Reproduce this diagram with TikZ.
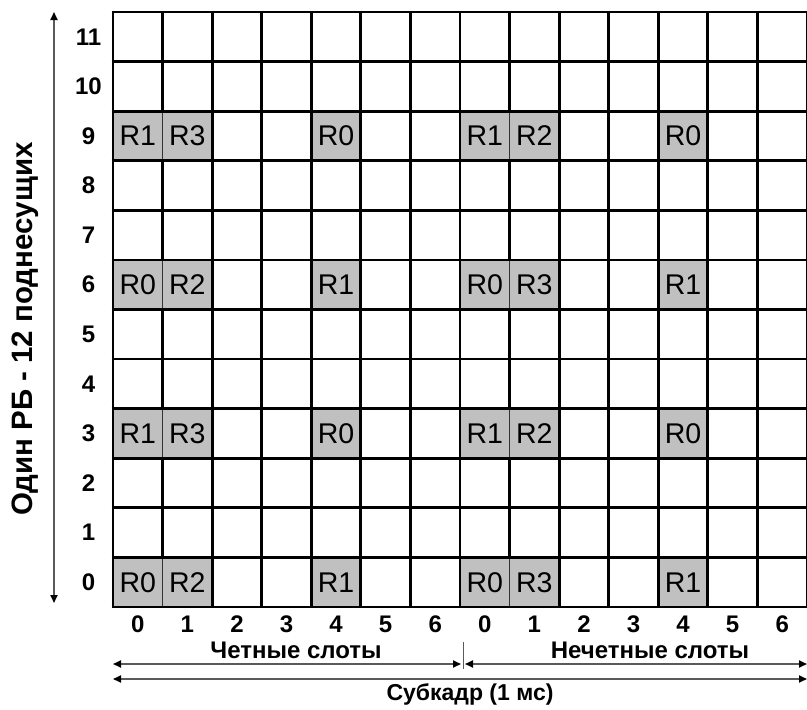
\documentclass[tikz,border=0pt]{standalone}
\usepackage{fontspec}
\setmainfont{Liberation Sans}
\usetikzlibrary{arrows.meta}
\definecolor{cellgray}{RGB}{192,192,192}
\definecolor{axisgray}{RGB}{90,90,90}
\begin{document}
\begin{tikzpicture}[x=1pt,y=-1pt,
  gridline/.style={line width=2.8pt,black},
  divline/.style={line width=1.5pt,black!80},
  rlabel/.style={font=\fontsize{28.5}{28.5}\selectfont,inner sep=0pt},
  numlabel/.style={font=\fontsize{24}{24}\selectfont\bfseries,inner sep=0pt},
  txtlabel/.style={font=\fontsize{24}{24}\selectfont\bfseries,inner sep=0pt,anchor=base},
  axisarrow/.style={line width=1.8pt,axisgray,{Triangle[length=8pt,width=7pt,black]}-{Triangle[length=8pt,width=7pt,black]}},
  tick/.style={line width=1pt,axisgray}]
\useasboundingbox (0,0) rectangle (807,710);
\pgfmathsetmacro{\cw}{694/14}
\pgfmathsetmacro{\rh}{595/12}
% gray cells
\foreach \c/\r in {0/9,1/9,4/9,7/9,8/9,11/9,0/6,1/6,4/6,7/6,8/6,11/6,
                   0/3,1/3,4/3,7/3,8/3,11/3,0/0,1/0,4/0,7/0,8/0,11/0}{
  \fill[cellgray] (113+\c*\cw,607-\r*\rh-\rh) rectangle (113+\c*\cw+\cw,607-\r*\rh);
}
% grid
\foreach \i in {0,...,14}{
  \draw[gridline] (113+\i*\cw,12-1.4) -- (113+\i*\cw,607+1.4);
}
\foreach \j in {0,...,12}{
  \draw[gridline] (113-1.4,12+\j*\rh) -- (807+1.4,12+\j*\rh);
}
% thinner dividers between adjacent gray cells
\foreach \c in {1,8}{
  \foreach \r in {0,3,6,9}{
    \fill[cellgray] (113+\c*\cw-1.6,607-\r*\rh-\rh+1.4) rectangle (113+\c*\cw+1.6,607-\r*\rh-1.4);
    \draw[divline] (113+\c*\cw,607-\r*\rh-\rh+1.4) -- (113+\c*\cw,607-\r*\rh-1.4);
  }
}
% labels in cells
\foreach \c/\r/\t in {0/9/R1,1/9/R3,4/9/R0,7/9/R1,8/9/R2,11/9/R0,
                      0/6/R0,1/6/R2,4/6/R1,7/6/R0,8/6/R3,11/6/R1,
                      0/3/R1,1/3/R3,4/3/R0,7/3/R1,8/3/R2,11/3/R0,
                      0/0/R0,1/0/R2,4/0/R1,7/0/R0,8/0/R3,11/0/R1}{
  \node[rlabel] (cell-\c-\r) at (113+\c*\cw+0.5*\cw,607-\r*\rh-0.5*\rh) {\t};
}
% row numbers
\foreach \r in {0,...,11}{
  \node[numlabel] (row\r) at (88.5,607-\r*\rh-0.5*\rh) {\r};
}
% column numbers
\foreach \c in {0,...,6}{
  \node[numlabel] (ecol\c) at (113+\c*\cw+0.5*\cw,624) {\c};
  \node[numlabel] (ocol\c) at (113+7*\cw+\c*\cw+0.5*\cw,624) {\c};
}
% y axis
\coordinate (ytop) at (54,12);
\coordinate (ybot) at (54,603);
\draw[axisarrow] (ybot) -- (ytop);
\node[txtlabel,font=\fontsize{29.5}{29.5}\selectfont\bfseries,rotate=90] (ylabel) at (32,329) {Один РБ - 12 поднесущих};
% bottom arrows
\coordinate (a1l) at (113,664);
\coordinate (a1r) at (461,664);
\coordinate (a2l) at (465,664);
\coordinate (a2r) at (807,664);
\coordinate (tkt) at (463,642);
\coordinate (tkb) at (463,669);
\draw[axisarrow] (a1l) -- (a1r);
\draw[axisarrow] (a2l) -- (a2r);
\draw[tick] (tkt) -- (tkb);
\coordinate (bl) at (113,679);
\coordinate (br) at (807,679);
\draw[axisarrow] (bl) -- (br);
\node[txtlabel] (even) at (296,658) {Четные слоты};
\node[txtlabel] (odd) at (650,658) {Нечетные слоты};
\node[txtlabel,font=\fontsize{23}{23}\selectfont\bfseries] (sub) at (470,700) {Субкадр (1 мс)};
\end{tikzpicture}
\end{document}
